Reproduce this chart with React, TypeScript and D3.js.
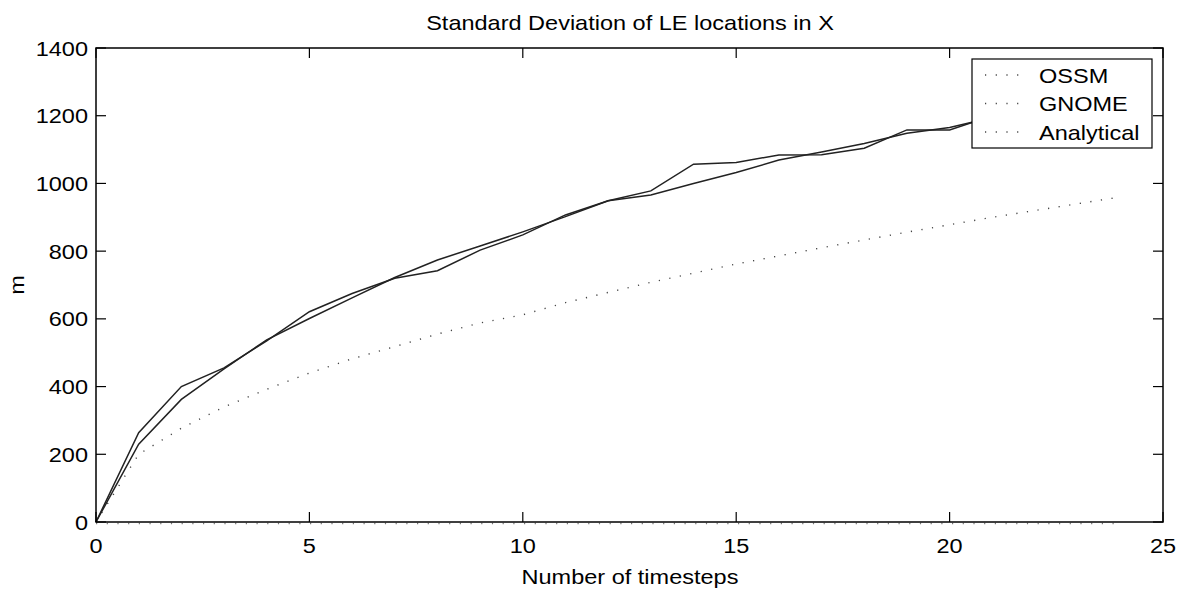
import * as d3 from 'd3';

// timesteps and series
const steps = [0, 1, 2, 3, 4, 5, 6, 7, 8, 9, 10, 11, 12, 13, 14, 15, 16, 17, 18, 19, 20, 21, 22, 23, 24];
const ossm = [0, 264, 400, 455, 535, 621, 675, 720, 742, 803, 848, 907, 949, 978, 1057, 1062, 1084, 1085, 1104, 1158, 1158, 1200, 1225, 1248, 1270];
const gnome = [0, 230, 362, 452, 538, 601, 662, 722, 774, 815, 857, 902, 949, 966, 1000, 1032, 1069, 1093, 1118, 1148, 1165, 1195, 1222, 1250, 1275];
const analytical = [0, 200, 277, 340, 392, 440, 482, 518, 555, 588, 612, 648, 678, 708, 735, 762, 786, 810, 833, 856, 878, 900, 920, 940, 960];
const baseline = [0, 0, 0, 0, 0, 0, 0, 0, 0, 0, 0, 0, 0, 0, 0, 0, 0, 0, 0, 0, 0, 0, 0, 0, 0];

const xTicks = [0, 5, 10, 15, 20, 25];
const yTicks = [0, 200, 400, 600, 800, 1000, 1200, 1400];
const legendNames = ['OSSM', 'GNOME', 'Analytical'];

const W = 1184;
const H = 591;
const FONT = '"Liberation Sans", Arial, sans-serif';
const FS = 21;
const SX = 1.12; // the reference type is a bit wide

function T({ x, y, anchor = 'start', children }: { x: number; y: number; anchor?: string; children: any }) {
  return (
    <text transform={'translate(' + x + ',' + y + ') scale(' + SX + ',1)'} textAnchor={anchor} fontSize={FS}>
      {children}
    </text>
  );
}

export default function App() {
  const x = d3.scaleLinear().domain([0, 25]).range([96, 1163]);
  const y = d3.scaleLinear().domain([0, 1400]).range([522, 48]);

  const line = (vals: number[]) =>
    d3.line<number>()
      .x((_, i) => x(steps[i]))
      .y(d => y(d))(vals) || '';

  const tick = 10;
  const dotted = '1.2 9.5';

  return (
    <div style={{ position: 'absolute', left: 0, top: 0 }}>
      <svg width={W} height={H} style={{ display: 'block', background: '#fff' }} fontFamily={FONT}>
        {/* series */}
        <path d={line(baseline)} fill="none" stroke="#777" strokeWidth={1.3} strokeDasharray={dotted} transform="translate(0,1.5)" />
        <path d={line(analytical)} fill="none" stroke="#444" strokeWidth={1.4} strokeDasharray={dotted} />
        <path d={line(ossm)} fill="none" stroke="#222" strokeWidth={1.5} />
        <path d={line(gnome)} fill="none" stroke="#222" strokeWidth={1.5} />

        {/* box and ticks */}
        <rect x={96} y={48} width={1163 - 96} height={522 - 48} fill="none" stroke="#000" strokeWidth={1.5} />
        {xTicks.map(t => (
          <g key={'x' + t}>
            <line x1={x(t)} x2={x(t)} y1={522} y2={522 - tick} stroke="#000" strokeWidth={1.2} />
            <line x1={x(t)} x2={x(t)} y1={48} y2={48 + tick} stroke="#000" strokeWidth={1.2} />
            <T x={x(t)} y={553} anchor="middle">{t}</T>
          </g>
        ))}
        {yTicks.map(t => (
          <g key={'y' + t}>
            <line x1={96} x2={96 + tick} y1={y(t)} y2={y(t)} stroke="#000" strokeWidth={1.2} />
            <line x1={1163} x2={1163 - tick} y1={y(t)} y2={y(t)} stroke="#000" strokeWidth={1.2} />
            <T x={88} y={y(t) + 7.5} anchor="end">{t}</T>
          </g>
        ))}

        {/* labels */}
        <T x={630} y={30} anchor="middle">Standard Deviation of LE locations in X</T>
        <T x={630} y={584} anchor="middle">Number of timesteps</T>
        <text transform="translate(24,285) rotate(-90) scale(1.12,1)" textAnchor="middle" fontSize={FS}>m</text>

        {/* legend */}
        <rect x={972} y={59} width={180} height={89} fill="#fff" stroke="#000" strokeWidth={1.2} />
        {legendNames.map((name, i) => {
          const cy = 75 + i * 28.5;
          return (
            <g key={name}>
              <line x1={985} x2={1020} y1={cy} y2={cy} stroke="#444" strokeWidth={1.4} strokeDasharray={dotted} />
              <T x={1039} y={cy + 7.5}>{name}</T>
            </g>
          );
        })}
      </svg>
    </div>
  );
}
